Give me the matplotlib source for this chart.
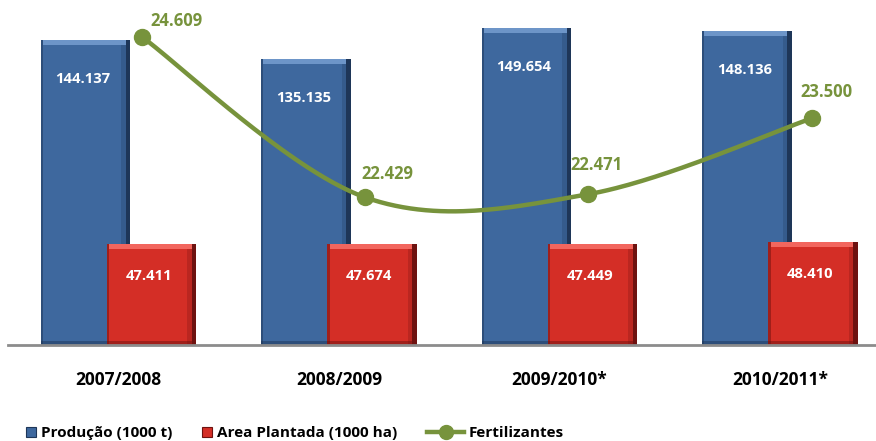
import numpy as np
import matplotlib
matplotlib.use("Agg")
import matplotlib.pyplot as plt
from matplotlib.patches import Rectangle, Patch
from matplotlib.lines import Line2D

plt.rcParams['font.family'] = ['Open Sans', 'DejaVu Sans']

categories = ["2007/2008", "2008/2009", "2009/2010*", "2010/2011*"]
producao = [144.137, 135.135, 149.654, 148.136]
area_plantada = [47.411, 47.674, 47.449, 48.410]
fertilizantes = [24.609, 22.429, 22.471, 23.500]

series_names = ["Produção (1000 t)", "Area Plantada (1000 ha)", "Fertilizantes"]

def fmt(v):
    return f"{v:.3f}"

W, H = 876, 441
fig = plt.figure(figsize=(W / 100, H / 100), dpi=100)
left_px, right_px, base_px = 8, 876, 344.5
ax_rect = [left_px / W, 1 - base_px / H, (right_px - left_px) / W, base_px / H]
ax = fig.add_axes(ax_rect)
ax2 = fig.add_axes(ax_rect, frameon=False)

x = np.arange(len(categories))
bw = 0.405
off = 0.15
blue, blue_dark, blue_light = "#3E689E", "#1E3658", "#6D95C8"
red, red_dark, red_light = "#D42E26", "#6E1210", "#F2665E"


def bevel(ax, bars, dark, light, mid_dark):
    for b in bars:
        x0, y0, w, h = b.get_x(), b.get_y(), b.get_width(), b.get_height()
        dx = w * 0.05
        dy = 2.4
        z = b.get_zorder() + 0.1
        ax.add_patch(Rectangle((x0 + w - dx, y0), dx, h, color=dark, lw=0, zorder=z))
        ax.add_patch(Rectangle((x0 + w - 2 * dx, y0), dx, h, color=dark, lw=0, alpha=0.25, zorder=z))
        ax.add_patch(Rectangle((x0, y0), dx * 0.5, h, color=mid_dark, lw=0, alpha=0.5, zorder=z))
        ax.add_patch(Rectangle((x0 + dx * 0.5, y0 + h - dy), w - 1.5 * dx, dy, color=light, lw=0, zorder=z))
        ax.add_patch(Rectangle((x0, y0), w, dy * 0.6, color=mid_dark, lw=0, alpha=0.5, zorder=z))


bars_b = ax.bar(x - off, producao, bw, color=blue, zorder=2, lw=0)
bevel(ax, bars_b, blue_dark, blue_light, blue_dark)
bars_r = ax.bar(x + off, area_plantada, bw, color=red, zorder=3, lw=0)
bevel(ax, bars_r, red_dark, red_light, red_dark)

for b, v in zip(bars_b, producao):
    ax.annotate(fmt(v), (b.get_x() + b.get_width() * 0.47, v), xytext=(0, -28), textcoords="offset points",
                ha="center", va="center", color="white", fontweight="bold", fontsize=10.6, zorder=5)
for b, v in zip(bars_r, area_plantada):
    ax.annotate(fmt(v), (b.get_x() + b.get_width() * 0.47, v), xytext=(0, -23), textcoords="offset points",
                ha="center", va="center", color="white", fontweight="bold", fontsize=10.6, zorder=5)

ax.set_xlim(-0.501, -0.501 + (right_px - left_px) / 220.5)
ax.set_ylim(0, base_px / 2.115)
for s in ["top", "left", "right"]:
    ax.spines[s].set_visible(False)
ax.spines["bottom"].set_color("#8C8C8C")
ax.spines["bottom"].set_linewidth(2)
ax.spines["bottom"].set_zorder(6)
ax.set_yticks([])
ax.set_xticks(x)
ax.set_xticklabels(categories, fontsize=12.5, fontweight="bold")
ax.tick_params(axis="x", length=0, pad=19)

# smoothed line (Excel-like Bezier smoothing)
green = "#77933C"
xl = np.arange(len(fertilizantes), dtype=float)
yl = np.array(fertilizantes, dtype=float)
P = np.column_stack([xl, yl])
sy = 73.67 / 223.3
Q = P.copy(); Q[:, 1] *= sy
curve = []
n = len(Q)
for i in range(n - 1):
    p0 = Q[i - 1] if i > 0 else Q[i]
    p1, p2 = Q[i], Q[i + 1]
    p3 = Q[i + 2] if i + 2 < n else Q[i + 1]
    c1 = p1 + (p2 - p0) / 6
    c2 = p2 - (p3 - p1) / 6
    t = np.linspace(0, 1, 60)[:, None]
    seg = (1 - t) ** 3 * p1 + 3 * (1 - t) ** 2 * t * c1 + 3 * (1 - t) * t ** 2 * c2 + t ** 3 * p2
    curve.append(seg)
curve = np.vstack(curve)
curve[:, 1] /= sy
ax2.plot(curve[:, 0], curve[:, 1], color=green, lw=3.2, zorder=4, solid_capstyle="round")
ax2.plot(xl, yl, "o", color=green, ms=11.5, zorder=5)
label_offsets = [(25, 11), (16, 17), (6, 21), (11, 19)]
for xi, v, (ox, oy) in zip(xl, yl, label_offsets):
    ax2.annotate(fmt(v), (xi, v), xytext=(ox, oy), textcoords="offset points", ha="center", va="center",
                 color=green, fontweight="bold", fontsize=12)
a = -133.7 / 223.3
ax2.set_xlim(a, a + (right_px - left_px) / 223.3)
ax2.set_ylim(22.429 - (base_px - 197.3) / 73.67, 24.609 + 36.7 / 73.67)
ax2.set_xticks([]); ax2.set_yticks([])

# legend: one entry per legend box, placed along the bottom
handles = [Patch(facecolor=blue, edgecolor=blue_dark, lw=0.8), Patch(facecolor=red, edgecolor=red_dark, lw=0.8),
           Line2D([0], [0], color=green, lw=3.2, marker="o", ms=10)]
leg_x_px = [26, 202, 427]
hl = [0.65, 0.65, 2.45]
ly = 1 - 433 / H
for h, name, xp, l in zip(handles, series_names, leg_x_px, hl):
    lg = fig.legend([h], [name], loc="center left", bbox_to_anchor=(xp / W, ly), frameon=False,
                    prop={"weight": "bold", "size": 11}, handlelength=l, handleheight=0.65,
                    handletextpad=0.3, borderaxespad=0, borderpad=0)

fig.savefig("out.png", dpi=100)
